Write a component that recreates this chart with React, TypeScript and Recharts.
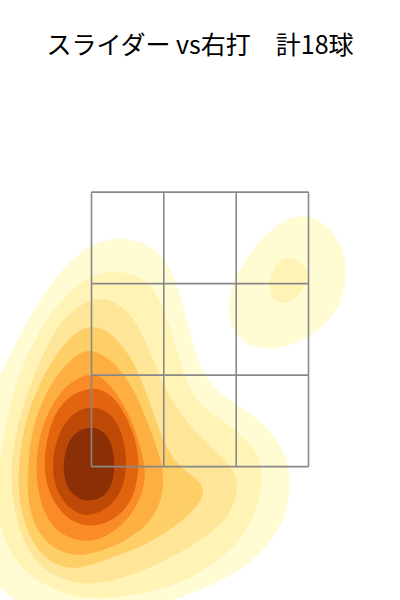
import React from "react";
import { ScatterChart, Scatter, XAxis, YAxis } from "recharts";

// strike zone, ft
const zoneX = [-0.83, -0.277, 0.277, 0.83];
const zoneZ = [1.5, 2.2, 2.9, 3.6];

// density levels, light -> dark (YlOrBr)
const levelColors = [
  "#fffbd3",
  "#fff4b6",
  "#fee597",
  "#fece67",
  "#fdaf41",
  "#f98c26",
  "#e3640f",
  "#be4806",
  "#8a2f06",
];

// contour outlines [plate_x, plate_z]
const level1 = [
  [-0.65, 3.26], [-0.42, 3.22], [-0.27, 3.1], [-0.17, 2.89], [-0.09, 2.58], [-0.02, 2.3],
  [0.09, 2.1], [0.31, 1.96], [0.52, 1.81], [0.65, 1.61], [0.7, 1.4], [0.67, 1.15],
  [0.57, 0.96], [0.38, 0.75], [0.11, 0.6], [-0.19, 0.48], [-0.54, 0.39], [-0.99, 0.37],
  [-1.45, 0.44], [-1.72, 0.79], [-1.76, 1.4], [-1.64, 1.93], [-1.53, 2.2], [-1.44, 2.38],
  [-1.26, 2.74], [-1.01, 3.07], [-0.83, 3.2],
];
const level2 = [
  [-0.67, 3.0], [-0.5, 2.97], [-0.38, 2.91], [-0.28, 2.72], [-0.21, 2.51], [-0.15, 2.28],
  [-0.08, 2.09], [0.02, 1.95], [0.17, 1.86], [0.32, 1.74], [0.44, 1.61], [0.48, 1.46],
  [0.47, 1.31], [0.4, 1.09], [0.31, 0.94], [0.1, 0.74], [-0.15, 0.61], [-0.41, 0.53],
  [-0.69, 0.49], [-0.96, 0.5], [-1.22, 0.6], [-1.42, 0.77], [-1.53, 1.02], [-1.56, 1.28],
  [-1.53, 1.55], [-1.48, 1.88], [-1.38, 2.24], [-1.22, 2.56], [-1.02, 2.83], [-0.84, 2.96],
];
const level3 = [
  [-0.77, 2.8], [-0.63, 2.75], [-0.52, 2.66], [-0.41, 2.45], [-0.33, 2.25], [-0.27, 2.1],
  [-0.15, 1.91], [0.0, 1.72], [0.17, 1.58], [0.28, 1.44], [0.29, 1.31], [0.24, 1.15],
  [0.1, 1.0], [-0.15, 0.84], [-0.41, 0.71], [-0.65, 0.63], [-0.88, 0.59], [-1.11, 0.65],
  [-1.29, 0.8], [-1.4, 1.05], [-1.45, 1.36], [-1.44, 1.63], [-1.35, 1.99], [-1.22, 2.33],
  [-1.07, 2.61], [-0.92, 2.74],
];
const level4 = [
  [-0.8, 2.58], [-0.67, 2.52], [-0.51, 2.32], [-0.42, 2.09], [-0.34, 1.86], [-0.27, 1.67],
  [-0.18, 1.51], [-0.02, 1.41], [0.04, 1.32], [0.0, 1.22], [-0.13, 1.09], [-0.31, 0.96],
  [-0.51, 0.86], [-0.77, 0.77], [-0.99, 0.7], [-1.19, 0.79], [-1.32, 0.98], [-1.39, 1.25],
  [-1.39, 1.51], [-1.34, 1.86], [-1.22, 2.16], [-1.07, 2.41], [-0.93, 2.55],
];
const level5 = [
  [-0.83, 2.4], [-0.67, 2.32], [-0.51, 2.11], [-0.41, 1.86], [-0.33, 1.65], [-0.28, 1.47],
  [-0.28, 1.32], [-0.32, 1.18], [-0.41, 1.04], [-0.59, 0.92], [-0.77, 0.85], [-0.93, 0.81],
  [-1.11, 0.86], [-1.24, 0.99], [-1.32, 1.21], [-1.32, 1.47], [-1.29, 1.78], [-1.19, 2.05],
  [-1.06, 2.25], [-0.93, 2.37],
];
const level6 = [
  [-0.79, 2.22], [-0.67, 2.11], [-0.54, 1.91], [-0.46, 1.67], [-0.41, 1.45], [-0.44, 1.3],
  [-0.51, 1.15], [-0.63, 1.02], [-0.8, 0.92], [-0.98, 0.94], [-1.13, 1.03], [-1.22, 1.21],
  [-1.26, 1.44], [-1.24, 1.7], [-1.16, 1.93], [-1.05, 2.1], [-0.92, 2.19],
];
const level7 = [
  [-0.83, 2.11], [-0.69, 2.07], [-0.57, 1.91], [-0.49, 1.7], [-0.46, 1.51], [-0.5, 1.28],
  [-0.6, 1.13], [-0.77, 1.04], [-0.93, 1.05], [-1.07, 1.15], [-1.17, 1.32], [-1.2, 1.54],
  [-1.16, 1.77], [-1.09, 1.95], [-0.97, 2.06],
];
const level8 = [
  [-0.82, 1.96], [-0.69, 1.92], [-0.6, 1.78], [-0.56, 1.59], [-0.57, 1.4], [-0.63, 1.25],
  [-0.77, 1.14], [-0.9, 1.12], [-1.03, 1.2], [-1.12, 1.36], [-1.13, 1.55], [-1.09, 1.74],
  [-1.01, 1.87], [-0.92, 1.94],
];
const level9 = [
  [-0.84, 1.81], [-0.74, 1.78], [-0.67, 1.67], [-0.65, 1.51], [-0.67, 1.36], [-0.74, 1.26],
  [-0.86, 1.23], [-0.96, 1.27], [-1.03, 1.36], [-1.05, 1.51], [-1.02, 1.67], [-0.95, 1.77],
];
const rightLevel1 = [
  [0.79, 3.45], [1.02, 3.33], [1.12, 3.08], [1.12, 2.93], [1.07, 2.72], [0.94, 2.57],
  [0.77, 2.45], [0.56, 2.39], [0.38, 2.42], [0.25, 2.52], [0.21, 2.7], [0.24, 2.87],
  [0.31, 3.03], [0.44, 3.21], [0.59, 3.36],
];
const rightLevel2 = [
  [0.71, 3.1], [0.82, 3.03], [0.83, 2.93], [0.79, 2.85], [0.69, 2.76], [0.61, 2.74],
  [0.54, 2.8], [0.52, 2.91], [0.57, 3.03], [0.63, 3.1],
];

const contours = [
  { pts: level1, level: 0 },
  { pts: rightLevel1, level: 0 },
  { pts: level2, level: 1 },
  { pts: rightLevel2, level: 1 },
  { pts: level3, level: 2 },
  { pts: level4, level: 3 },
  { pts: level5, level: 4 },
  { pts: level6, level: 5 },
  { pts: level7, level: 6 },
  { pts: level8, level: 7 },
  { pts: level9, level: 8 },
];

const toXY = (pts: number[][]) => pts.map(([x, y]) => ({ x, y }));
const noDot = () => <g />;

// 3x3 zone grid as two-point segments
const zBot = zoneZ[0];
const zTop = zoneZ[zoneZ.length - 1];
const xL = zoneX[0];
const xR = zoneX[zoneX.length - 1];
const gridSegments = [
  ...zoneX.map((x) => [{ x, y: zBot }, { x, y: zTop }]),
  ...zoneZ.map((z) => [{ x: xL, y: z }, { x: xR, y: z }]),
];

export default function App() {
  return (
    <div style={{ position: "absolute", left: 0, top: 0, width: 400, height: 600, background: "#fff" }}>
      <div
        style={{
          position: "absolute",
          top: 31,
          left: 0,
          width: 400,
          textAlign: "center",
          fontFamily: "'Noto Sans CJK JP', 'Noto Sans', sans-serif",
          fontSize: 25,
          lineHeight: "25px",
          color: "#000",
          zIndex: 1,
        }}
      >
        スライダー vs右打　計18球
      </div>
      <ScatterChart width={400} height={600} margin={{ top: 0, right: 0, bottom: 0, left: 0 }}>
        <XAxis type="number" dataKey="x" domain={[-1.53, 1.53]} allowDataOverflow hide />
        <YAxis type="number" dataKey="y" domain={[0.48, 5.07]} allowDataOverflow hide />
        {contours.map((c, i) => (
          <Scatter
            key={"c" + i}
            data={toXY(c.pts)}
            fill={levelColors[c.level]}
            line={{ fill: levelColors[c.level], stroke: "none" }}
            lineJointType="basisClosed"
            shape={noDot}
            isAnimationActive={false}
          />
        ))}
        {gridSegments.map((seg, i) => (
          <Scatter
            key={"g" + i}
            data={seg}
            fill="none"
            line={{ stroke: "#888", strokeWidth: 1.6, fill: "none" }}
            lineJointType="linear"
            shape={noDot}
            isAnimationActive={false}
          />
        ))}
      </ScatterChart>
    </div>
  );
}
